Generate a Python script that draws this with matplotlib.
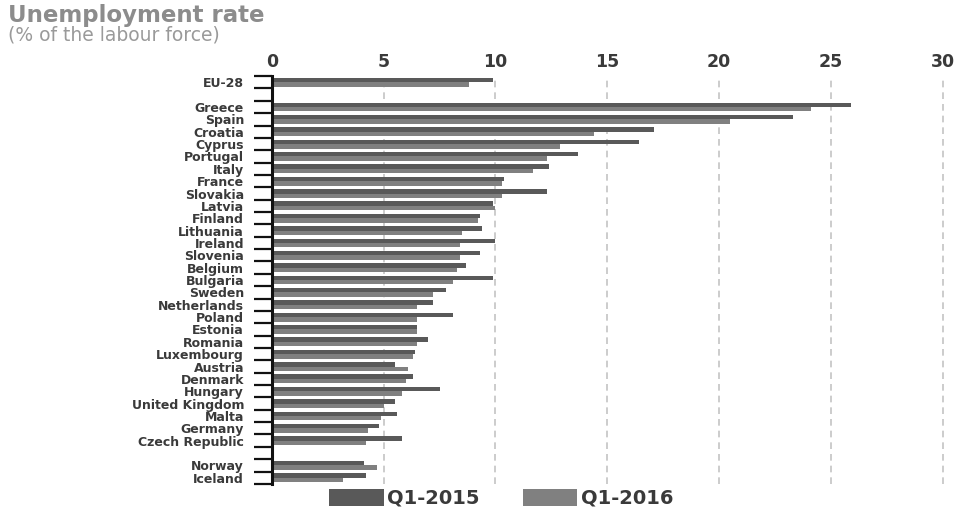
import matplotlib
matplotlib.use("Agg")
import matplotlib.pyplot as plt
from matplotlib.patches import Patch
import numpy as np

# Unemployment rate, % of the labour force ("" marks a spacer row)
countries = ["EU-28", "", "Greece", "Spain", "Croatia", "Cyprus", "Portugal", "Italy",
             "France", "Slovakia", "Latvia", "Finland", "Lithuania", "Ireland",
             "Slovenia", "Belgium", "Bulgaria", "Sweden", "Netherlands", "Poland",
             "Estonia", "Romania", "Luxembourg", "Austria", "Denmark", "Hungary",
             "United Kingdom", "Malta", "Germany", "Czech Republic", "", "Norway",
             "Iceland"]
q1_2015 = [9.9, None, 25.9, 23.3, 17.1, 16.4, 13.7, 12.4,
           10.4, 12.3, 9.9, 9.3, 9.4, 10.0,
           9.3, 8.7, 9.9, 7.8, 7.2, 8.1,
           6.5, 7.0, 6.4, 5.5, 6.3, 7.5,
           5.5, 5.6, 4.8, 5.8, None, 4.1,
           4.2]
q1_2016 = [8.8, None, 24.1, 20.5, 14.4, 12.9, 12.3, 11.7,
           10.3, 10.3, 10.0, 9.2, 8.5, 8.4,
           8.4, 8.3, 8.1, 7.2, 6.5, 6.5,
           6.5, 6.5, 6.3, 6.1, 6.0, 5.8,
           5.0, 4.9, 4.3, 4.2, None, 4.7,
           3.2]
series_names = ["Q1-2015", "Q1-2016"]
x_ticks = [0, 5, 10, 15, 20, 25, 30]

c2015 = "#595959"
c2016 = "#808080"
text_col = "#3a3a3a"

fig = plt.figure(figsize=(9.64, 5.11), dpi=100)
ax = fig.add_axes([0.282, 0.053, 0.697, 0.798])

pos = np.arange(len(countries))
v15 = np.array([np.nan if v is None else v for v in q1_2015])
v16 = np.array([np.nan if v is None else v for v in q1_2016])
h = 0.36
ax.barh(pos - h / 2, v15, height=h, color=c2015, zorder=3)
ax.barh(pos + h / 2, v16, height=h, color=c2016, zorder=3)

ax.set_xlim(0, 30.05)
ax.set_ylim(len(countries) - 0.5, -0.5)

# grid
for x in x_ticks[1:]:
    ax.axvline(x, color="#c4c4c4", lw=1.2, ls=(0, (4, 3)), zorder=1)

ax.xaxis.tick_top()
ax.set_xticks(x_ticks)
ax.set_xticklabels([str(t) for t in x_ticks], fontsize=12.5, fontweight="bold",
                   color=text_col)
ax.tick_params(axis="x", length=0, pad=4)

ax.set_yticks(pos)
ax.set_yticklabels(countries, fontsize=9, fontweight="bold", color=text_col)
ax.tick_params(axis="y", which="major", length=0, pad=20)
ax.set_yticks(np.arange(-0.5, len(countries)), minor=True)
ax.tick_params(axis="y", which="minor", length=13, width=1.6, color="#111111")

for s in ["top", "right", "bottom"]:
    ax.spines[s].set_visible(False)
ax.spines["left"].set_linewidth(2.2)
ax.spines["left"].set_color("#111111")
ax.spines["left"].set_zorder(4)

fig.text(0.008, 0.970, "Unemployment rate", fontsize=16.5, fontweight="bold",
         color="#8c8c8c", va="center", ha="left")
fig.text(0.008, 0.932, "(% of the labour force)", fontsize=13.5,
         color="#9a9a9a", va="center", ha="left")

handles = [Patch(facecolor=c2015), Patch(facecolor=c2016)]
leg = fig.legend(handles, series_names, loc="center", bbox_to_anchor=(0.52, 0.025),
                 ncol=2, frameon=False, handlelength=2.8, handleheight=1.0,
                 handletextpad=0.2, columnspacing=2.2,
                 prop={"size": 14, "weight": "bold"})
for t in leg.get_texts():
    t.set_color(text_col)

fig.savefig("out.png", dpi=100)
